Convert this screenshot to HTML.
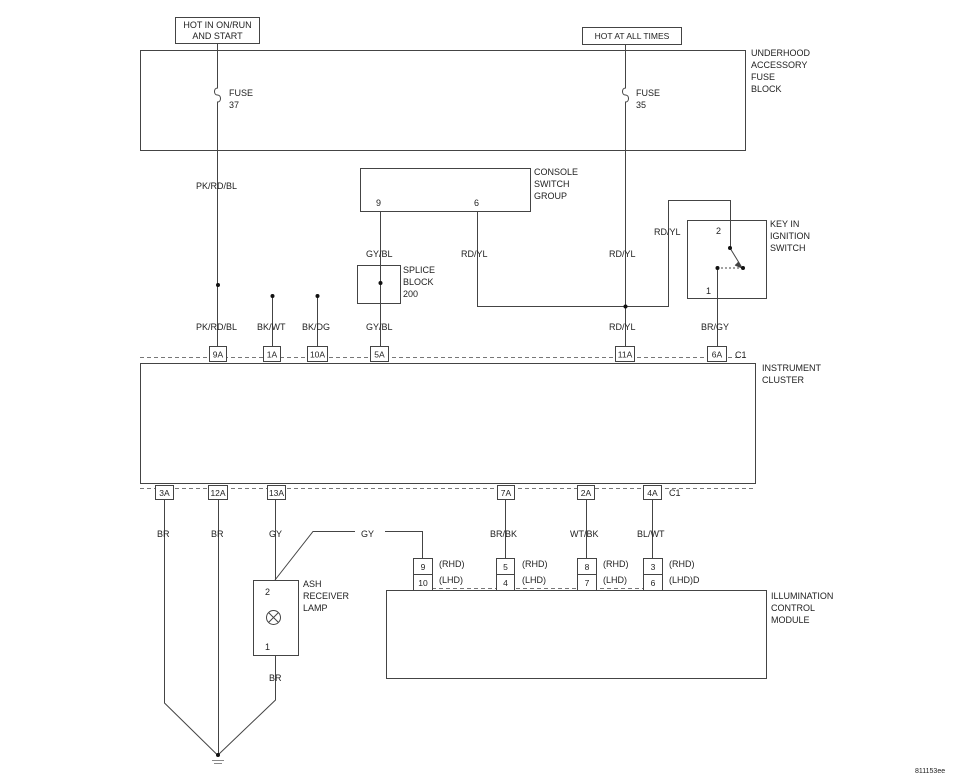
<!DOCTYPE html>
<html><head><style>
body{margin:0;background:#fff}
svg text{font-family:"Liberation Sans",sans-serif;font-size:9px;fill:#222}
.c{text-anchor:middle;font-size:8.5px}
</style></head><body>
<svg width="960" height="778" viewBox="0 0 960 778" xmlns="http://www.w3.org/2000/svg">
<g fill="none" stroke="#444" stroke-width="1">
<rect x="175.5" y="17.5" width="84" height="26"/>
<rect x="582.5" y="27.5" width="99" height="17"/>
<rect x="140.5" y="50.5" width="605" height="100"/>
<path d="M217.5 43 V88 c-4 0 -4 7 0 7 c4 0 4 7 0 7 V346"/>
<path d="M625.5 44 V88 c-4 0 -4 7 0 7 c4 0 4 7 0 7 V346"/>
<rect x="360.5" y="168.5" width="170" height="43"/>
<path d="M380.5 211 V346"/>
<rect x="357.5" y="265.5" width="43" height="38"/>
<path d="M272.5 296 V346 M317.5 296 V346"/>
<path d="M477.5 211 V306.5 H668.5 V200.5 H730.5 V248"/>
<rect x="687.5" y="220.5" width="79" height="78"/>
<path d="M730 248 L741 266" />
<path d="M738 262 L742 268 L735 265" fill="#444"/>
<path d="M717 268 H743" stroke-dasharray="2,2"/>
<path d="M717.5 268 V346"/>
<path d="M140 357.5 H745" stroke-dasharray="4,3" stroke="#777"/>
<path d="M140 488.5 H755" stroke-dasharray="4,3" stroke="#777"/>
<path d="M432 588.5 H643" stroke-dasharray="4,3" stroke="#777"/>
</g>
<g fill="#fff" stroke="#444" stroke-width="1">
<rect x="209.5" y="346.5" width="17" height="15"/>
<rect x="263.5" y="346.5" width="17" height="15"/>
<rect x="307.5" y="346.5" width="20" height="15"/>
<rect x="370.5" y="346.5" width="18" height="15"/>
<rect x="615.5" y="346.5" width="19" height="15"/>
<rect x="707.5" y="346.5" width="19" height="15"/>
<rect x="140.5" y="363.5" width="615" height="120" fill="none"/>
<rect x="155.5" y="485.5" width="18" height="14"/>
<rect x="208.5" y="485.5" width="19" height="14"/>
<rect x="267.5" y="485.5" width="18" height="14"/>
<rect x="497.5" y="485.5" width="17" height="14"/>
<rect x="577.5" y="485.5" width="17" height="14"/>
<rect x="643.5" y="485.5" width="18" height="14"/>
</g>
<g fill="none" stroke="#444" stroke-width="1">
<path d="M164.5 499 V703 L217.5 755 M218.5 499 V755 M275.5 499 V580 M275.5 655 V700 L218 755"/>
<path d="M275 580 L313 531.5 H355 M385 531.5 H422.5 V558"/>
<rect x="253.5" y="580.5" width="45" height="75"/>
<circle cx="273.5" cy="617.5" r="7"/>
<path d="M268.5 612.5 l10 10 M278.5 612.5 l-10 10"/>
<path d="M505.5 499 V558 M586.5 499 V558 M652.5 499 V558"/>
<rect x="386.5" y="590.5" width="380" height="88"/>
<path d="M212 760.5 H224 M214 763.5 H222" stroke="#888"/>
</g>
<g fill="#fff" stroke="#444" stroke-width="1">
<rect x="413.5" y="558.5" width="19" height="16"/>
<rect x="413.5" y="574.5" width="19" height="16"/>
<rect x="496.5" y="558.5" width="18" height="16"/>
<rect x="496.5" y="574.5" width="18" height="16"/>
<rect x="577.5" y="558.5" width="19" height="16"/>
<rect x="577.5" y="574.5" width="19" height="16"/>
<rect x="643.5" y="558.5" width="19" height="16"/>
<rect x="643.5" y="574.5" width="19" height="16"/>
</g>
<g fill="#111">
<circle cx="218" cy="285" r="2"/><circle cx="272.5" cy="296" r="2"/><circle cx="317.5" cy="296" r="2"/>
<circle cx="380.5" cy="283" r="2"/><circle cx="625.5" cy="306.5" r="2"/>
<circle cx="730" cy="248" r="2"/><circle cx="743" cy="268" r="2"/><circle cx="717.5" cy="268" r="2"/>
<circle cx="218" cy="755" r="2"/>
</g>
<text class="c" x="217.5" y="28" style="font-size:9px">HOT IN ON/RUN</text><text class="c" x="217.5" y="39" style="font-size:9px">AND START</text>
<text class="c" x="632" y="39">HOT AT ALL TIMES</text>
<text x="229" y="96">FUSE</text><text x="229" y="108">37</text>
<text x="636" y="96">FUSE</text><text x="636" y="108">35</text>
<text x="751" y="56">UNDERHOOD</text><text x="751" y="68">ACCESSORY</text><text x="751" y="80">FUSE</text><text x="751" y="92">BLOCK</text>
<text x="196" y="189">PK/RD/BL</text>
<text x="534" y="175">CONSOLE</text><text x="534" y="187">SWITCH</text><text x="534" y="199">GROUP</text>
<text x="376" y="206">9</text><text x="474" y="206">6</text>
<text x="366" y="257">GY/BL</text><text x="403" y="273">SPLICE</text><text x="403" y="285">BLOCK</text><text x="403" y="297">200</text>
<text x="461" y="257">RD/YL</text><text x="609" y="257">RD/YL</text><text x="654" y="235">RD/YL</text>
<text x="716" y="234">2</text><text x="706" y="294">1</text>
<text x="770" y="227">KEY IN</text><text x="770" y="239">IGNITION</text><text x="770" y="251">SWITCH</text>
<text x="196" y="330">PK/RD/BL</text><text x="257" y="330">BK/WT</text><text x="302" y="330">BK/DG</text><text x="366" y="330">GY/BL</text><text x="609" y="330">RD/YL</text><text x="701" y="330">BR/GY</text>
<text class="c" x="218" y="357.5">9A</text><text class="c" x="272" y="357.5">1A</text><text class="c" x="317.5" y="357.5">10A</text><text class="c" x="379.5" y="357.5">5A</text><text class="c" x="625" y="357.5">11A</text><text class="c" x="717" y="357.5">6A</text><text x="735" y="358">C1</text>
<text x="762" y="371">INSTRUMENT</text><text x="762" y="383">CLUSTER</text>
<text class="c" x="164.5" y="496">3A</text><text class="c" x="218" y="496">12A</text><text class="c" x="276.5" y="496">13A</text><text class="c" x="506" y="496">7A</text><text class="c" x="586" y="496">2A</text><text class="c" x="652.5" y="496">4A</text><text x="669" y="496">C1</text>
<text x="157" y="537">BR</text><text x="211" y="537">BR</text><text x="269" y="537">GY</text><text x="361" y="537">GY</text>
<text x="490" y="537">BR/BK</text><text x="570" y="537">WT/BK</text><text x="637" y="537">BL/WT</text>
<text x="303" y="587">ASH</text><text x="303" y="599">RECEIVER</text><text x="303" y="611">LAMP</text>
<text x="265" y="595">2</text><text x="265" y="650">1</text><text x="269" y="681">BR</text>
<text class="c" x="423" y="570">9</text><text class="c" x="423" y="586">10</text><text class="c" x="505.5" y="570">5</text><text class="c" x="505.5" y="586">4</text>
<text class="c" x="587" y="570">8</text><text class="c" x="587" y="586">7</text><text class="c" x="653" y="570">3</text><text class="c" x="653" y="586">6</text>
<text x="439" y="567">(RHD)</text><text x="439" y="583">(LHD)</text><text x="522" y="567">(RHD)</text><text x="522" y="583">(LHD)</text>
<text x="603" y="567">(RHD)</text><text x="603" y="583">(LHD)</text><text x="669" y="567">(RHD)</text><text x="669" y="583">(LHD)D</text>
<text x="771" y="599">ILLUMINATION</text><text x="771" y="611">CONTROL</text><text x="771" y="623">MODULE</text>
<text x="915" y="773" style="font-size:7px">811153ee</text>
</svg>
</body></html>
